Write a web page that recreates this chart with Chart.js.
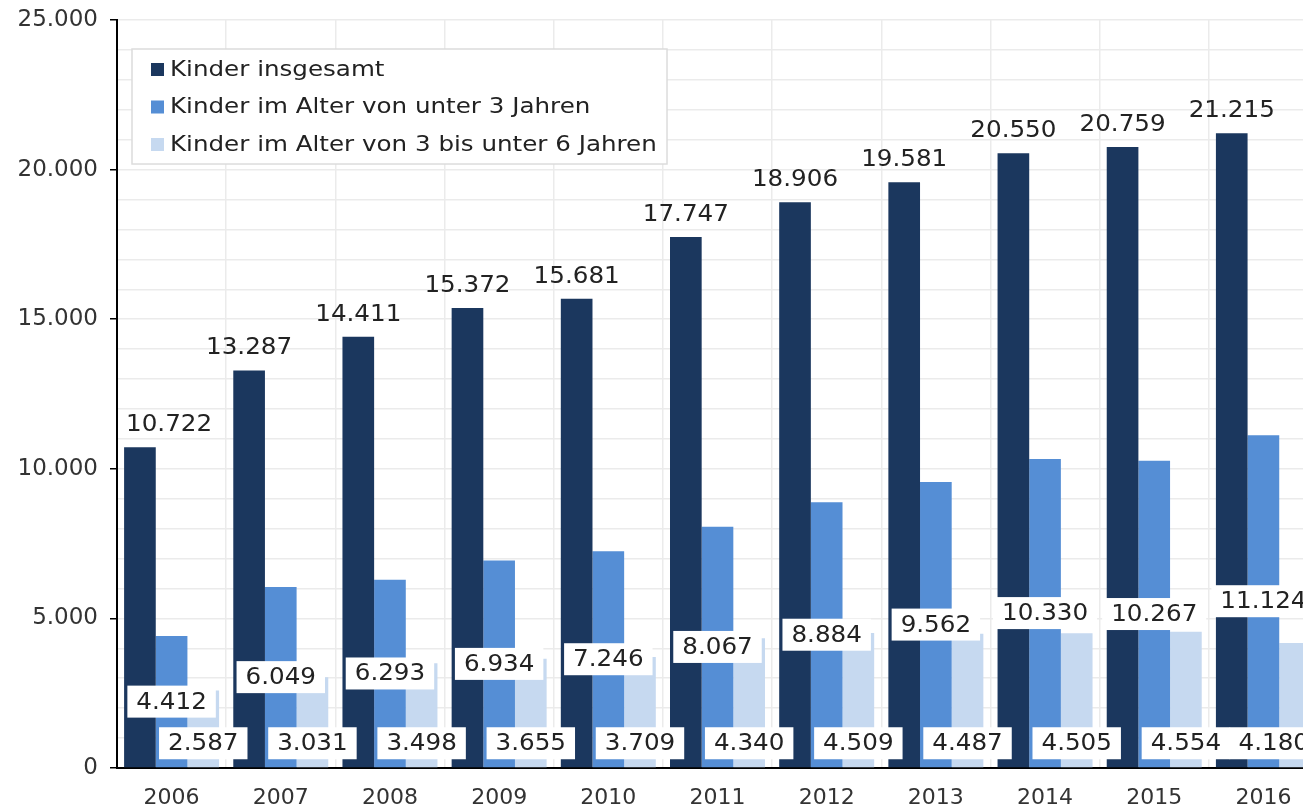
<!DOCTYPE html>
<html>
<head>
<meta charset="utf-8">
<script src="https://cdn.jsdelivr.net/npm/chart.js@4"></script>
<style>
  html, body { margin: 0; padding: 0; background: #fff; overflow: hidden; }
  #wrap { position: absolute; left: 0; top: 0; width: 1320px; height: 808px; }
</style>
</head>
<body>
<div id="wrap"><canvas id="bar-chart"></canvas></div>
<script>
// Kinder in Tagesbetreuung, 2006 - 2016
const years = ['2006', '2007', '2008', '2009', '2010', '2011', '2012', '2013', '2014', '2015', '2016'];
const kinderGesamt = [10722, 13287, 14411, 15372, 15681, 17747, 18906, 19581, 20550, 20759, 21215];
const kinderUnter3 = [4412, 6049, 6293, 6934, 7246, 8067, 8884, 9562, 10330, 10267, 11124];
const kinder3bis6 = [2587, 3031, 3498, 3655, 3709, 4340, 4509, 4487, 4505, 4554, 4180];

const seriesNames = ['Kinder insgesamt', 'Kinder im Alter von unter 3 Jahren', 'Kinder im Alter von 3 bis unter 6 Jahren'];
const seriesColors = ['#1b375e', '#558ed5', '#c6d9f0'];

const yMax = 25000;
const yLabelStep = 5000;
const yGridStep = 1000;

const FONT = '"DejaVu Sans", Verdana, sans-serif';

// 12345 -> "12.345"
function fmtDe(v) {
    return String(v).replace(/\B(?=(\d{3})+(?!\d))/g, '.');
}

// text a bit wider than the font, like in the original picture
function wideText(ctx, txt, x, y, sx, align) {
    ctx.save();
    ctx.translate(x, y);
    ctx.scale(sx, 1);
    ctx.textAlign = align;
    ctx.fillText(txt, 0, 0);
    ctx.restore();
}

const valueLabels = {
    id: 'valueLabels',
    afterDatasetsDraw(chart) {
        const ctx = chart.ctx;
        const area = chart.chartArea;
        const sx = 1.07;
        ctx.save();
        ctx.font = '23px ' + FONT;
        ctx.textBaseline = 'middle';
        chart.data.datasets.forEach((ds, di) => {
            const meta = chart.getDatasetMeta(di);
            meta.data.forEach((bar, i) => {
                const txt = fmtDe(ds.data[i]);
                const w = ctx.measureText(txt).width * sx;
                let cy;
                if (di === 0) {
                    cy = bar.y - 23;
                } else if (di === 1) {
                    cy = (bar.y + bar.base) / 2;
                } else {
                    cy = bar.base - 24;
                }
                // label box, kept inside the plot area
                const bw = w + 18;
                let left = bar.x - bw / 2;
                if (left < area.left) left = area.left;
                if (left + bw > area.right) left = area.right - bw;
                if (di > 0) {
                    ctx.fillStyle = '#fff';
                    ctx.fillRect(left, cy - 16, bw, 32);
                }
                ctx.fillStyle = '#222';
                wideText(ctx, txt, left + bw / 2, cy + 1, sx, 'center');
            });
        });
        ctx.restore();
    }
};

const boxLegend = {
    id: 'boxLegend',
    afterDraw(chart) {
        const ctx = chart.ctx;
        ctx.save();
        ctx.fillStyle = '#fff';
        ctx.fillRect(132, 49, 535, 115);
        ctx.strokeStyle = '#dcdcdc';
        ctx.lineWidth = 1.5;
        ctx.strokeRect(132, 49, 535, 115);
        ctx.font = '21px ' + FONT;
        ctx.textBaseline = 'middle';
        chart.data.datasets.forEach((ds, i) => {
            const y = 69.5 + i * 37.5;
            ctx.fillStyle = ds.backgroundColor;
            ctx.fillRect(151, y - 6.5, 13, 13);
            ctx.fillStyle = '#222';
            wideText(ctx, ds.label, 170, y + 1, 1.17, 'left');
        });
        ctx.restore();
    }
};

const ctx = document.getElementById('bar-chart');

const dataOptions = {
    labels: years,
    datasets: [
        { label: seriesNames[0], data: kinderGesamt, backgroundColor: seriesColors[0] },
        { label: seriesNames[1], data: kinderUnter3, backgroundColor: seriesColors[1] },
        { label: seriesNames[2], data: kinder3bis6, backgroundColor: seriesColors[2] }
    ]
};

const options = {
    responsive: true,
    maintainAspectRatio: false,
    animation: false,
    layout: { padding: { top: 20, right: 2, left: 0, bottom: 0 } },
    datasets: {
        bar: { categoryPercentage: 0.87, barPercentage: 1.0, borderWidth: 0 }
    },
    plugins: {
        legend: { display: false },
        tooltip: { enabled: false }
    },
    scales: {
        x: {
            offset: true,
            grid: { color: '#ebebeb', lineWidth: 1.5, drawTicks: false, offset: true },
            border: { color: '#000', width: 2 },
            ticks: { color: '#333', padding: 17, font: { family: FONT, size: 22 } },
            afterFit(scale) {
                scale.height = 40;
                scale.paddingLeft = 0;
                scale.paddingRight = 0;
            }
        },
        y: {
            min: 0,
            max: yMax,
            grid: {
                color: '#ebebeb',
                lineWidth: 1.5,
                tickLength: 7,
                tickColor: (c) => (c.tick && c.tick.value % yLabelStep === 0) ? '#000' : 'rgba(0,0,0,0)'
            },
            border: { color: '#000', width: 2 },
            ticks: {
                stepSize: yGridStep,
                autoSkip: false,
                padding: 12,
                color: '#333',
                font: { family: FONT, size: 23 },
                callback: (v) => v % yLabelStep === 0 ? fmtDe(v) : ''
            },
            afterFit(scale) {
                scale.width = 117;
                scale.paddingTop = 0;
                scale.paddingBottom = 0;
            }
        }
    }
};

const myBarChart = new Chart(ctx, {
    type: 'bar',
    data: dataOptions,
    options: options,
    plugins: [valueLabels, boxLegend]
});
</script>
</body>
</html>
